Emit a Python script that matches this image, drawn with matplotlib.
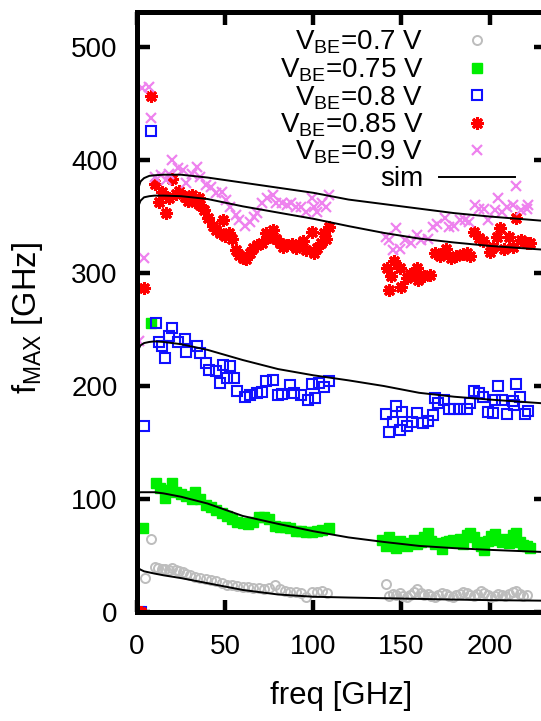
import matplotlib
matplotlib.use("Agg")
import matplotlib.pyplot as plt

plt.rcParams['font.family'] = ['Liberation Sans', 'DejaVu Sans']
plt.rcParams['font.size'] = 20

# measured fMAX [GHz] vs freq [GHz]
f07 = [4.5, 8, 10, 12, 14, 16, 18, 20, 22, 24, 26, 28, 30, 33, 36, 39, 42, 45, 48, 51, 54, 57, 60,
       63, 66, 69, 72, 75, 78, 81, 84, 87, 90, 93, 96, 99, 102, 105, 108,
       141, 143, 145, 147, 149, 151, 153, 155, 157, 159, 161, 163, 165, 167, 169, 171, 173, 175, 177,
       179, 181, 183, 185, 187, 189, 191, 193, 195, 197, 199, 201, 203, 205, 207, 209, 211, 213, 215,
       217, 219, 221]
v07 = [30, 65, 40, 39, 38, 38, 37, 39, 37, 36, 35, 34, 33, 31, 30, 29, 28, 27, 26, 24, 24, 23, 22,
       22, 21, 21, 20, 21, 24, 20, 19, 18, 18, 17, 13, 18, 18, 19, 17,
       25, 14, 16, 15, 17, 14, 13, 15, 18, 20, 17, 15, 16, 14, 13, 15, 17, 16, 14, 13, 15, 16, 18,
       17, 15, 14, 16, 19, 17, 15, 13, 14, 16, 15, 14, 16, 18, 19, 16, 14, 15]

f075 = [3.5, 8, 11, 13, 16, 18, 20, 22, 25, 28, 31, 33, 36, 39, 42, 45, 48, 51, 54, 57, 60, 63, 66,
        69, 72, 75, 78, 81, 84, 87, 90, 93, 96, 99, 102, 105, 109,
        139, 141, 143, 145, 147, 149, 151, 153, 155, 157, 159, 161, 163, 165, 167, 169, 171, 173, 175,
        177, 179, 181, 183, 185, 187, 189, 191, 193, 195, 197, 199, 201, 203, 205, 207, 209, 211, 213,
        215, 217, 219, 221, 223]
v075 = [74, 256, 114, 110, 101, 108, 114, 106, 104, 103, 100, 106, 100, 95, 93, 90, 88, 85, 82, 80,
        79, 78, 80, 84, 84, 82, 76, 75, 75, 74, 72, 72, 71, 71, 72, 73, 74,
        64, 58, 66, 62, 57, 63, 60, 58, 61, 64, 60, 62, 66, 70, 63, 60, 61, 56, 62, 63, 64, 62, 65,
        60, 68, 70, 66, 62, 58, 55, 63, 67, 69, 64, 62, 65, 61, 68, 70, 62, 59, 58, 57]

f08 = [1, 2, 4, 8, 11, 12.5, 14, 16, 18, 20, 23, 27, 28, 34, 36, 39, 41, 45, 47, 49, 51, 53, 55, 57,
       61, 64, 68, 71, 73, 77, 80, 82, 87, 89, 93, 97, 99, 101, 103, 106, 109,
       141, 143, 145, 147, 149, 150.6, 153, 156, 159, 162, 165, 168, 169, 171, 174, 177, 180, 183,
       187, 189, 191, 194, 196, 199, 202, 203, 205, 207, 210, 213, 214, 215, 217, 220, 222]
v08 = [0, 0, 165, 426, 256, 239, 235, 225, 244, 251, 239, 242, 230, 235, 229, 220, 214, 213, 203,
       219, 207, 218, 207, 196, 190, 192, 194, 195, 204, 205, 192, 193, 201, 194, 192, 188, 202, 189,
       203, 199, 204,
       175, 159, 168, 182, 161, 177, 165, 168, 176, 167, 169, 174, 189, 185, 188, 180, 180, 180,
       180, 185, 196, 194, 190, 177, 176, 188, 200, 188, 175, 187, 183, 202, 190, 175, 178]

f085 = [1, 2, 4, 8, 10, 12.5, 14, 16.5, 18, 20, 22, 24, 27, 29, 31, 33, 35, 36, 38, 40, 43, 45, 47,
        49, 50, 52, 54, 56, 58, 60, 62, 64, 66, 68, 71, 73, 75, 77, 79, 81, 83, 85, 88, 90, 92, 94,
        96, 99, 100.5, 102, 104.5, 106, 107, 109,
        142, 143, 144, 146, 149, 149.5, 153, 155, 159, 159.5, 163, 166, 169, 172, 175, 178, 181,
        185, 187, 189, 191, 194, 196, 200, 202, 204, 206, 208, 211, 213, 215, 218, 221, 223]
v085 = [0, 0, 287, 457, 379, 363, 372, 353, 366, 383, 370, 373, 367, 364, 369, 363, 366, 360, 356,
        349, 342, 338, 335, 347, 333, 335, 330, 320, 316, 313, 312, 318, 322, 325, 327, 335, 332,
        338, 330, 327, 323, 325, 326, 322, 326, 328, 320, 336, 318, 322, 327, 335, 330, 341,
        304, 285, 297, 311, 304, 288, 296, 299, 304, 294, 297, 298, 318, 315, 321, 313, 315,
        317, 318, 315, 336, 331, 328, 319, 323, 332, 340, 321, 332, 323, 349, 329, 327, 327]

f09 = [1, 3, 4, 7, 8, 10, 13.6, 16.5, 18, 20, 23, 26, 28, 31, 34, 36, 39, 42, 45, 48, 50.5, 53, 56,
       58, 61, 64, 66.5, 68, 71, 74, 77, 79, 82, 85, 87.5, 90, 93, 96, 99, 100.5, 102, 105, 107, 109,
       141, 143, 145, 147, 149, 152, 155.5, 159, 161, 165, 168, 170, 174.5, 177, 180, 183, 186,
       188.6, 191.5, 194, 196.6, 199, 203, 205, 207, 210, 213, 215, 218, 221, 222]
v09 = [240, 464, 313, 465, 437, 385, 387, 382, 388, 400, 393, 391, 380, 388, 394, 385, 378, 376,
       371, 372, 365, 358, 351, 347, 342, 345, 350, 353, 362, 366, 369, 362, 362, 360, 362, 358,
       358, 354, 366, 358, 354, 362, 358, 369,
       332, 329, 320, 340, 321, 329, 327, 334, 329, 330, 341, 343, 349, 341, 342, 347, 347,
       345, 360, 357, 357, 347, 356, 366, 354, 358, 360, 377, 356, 357, 360]

# simulation
sim_f = [0, 1, 2, 4, 7, 10, 15, 25, 40, 60, 80, 100, 120, 140, 160, 180, 200, 232]
sim07 = [40, 38.5, 37.5, 36, 35, 34, 32.5, 30, 25.5, 19.5, 15.5, 13.5, 12.8, 12.2, 11.6, 11, 10.5, 10]
sim075 = [105, 105.5, 106, 106, 106, 106, 105, 102, 96, 85, 78, 71.5, 66, 62, 58.5, 56.5, 55, 53]
sim08 = [229, 233, 236, 238, 239, 239.5, 239, 237, 232, 223, 215, 209.5, 205, 200, 194, 190.5, 188, 184.5]
sim085 = [350, 360, 364, 367, 368, 368.5, 368.5, 368, 365.5, 359, 353.5, 348, 341.5, 335.5, 330.5, 327, 324, 320.5]
sim09 = [365, 376, 381, 384, 386, 386.5, 387, 387, 384.5, 380, 375.5, 371, 365, 361, 357, 353, 350, 346]

fig = plt.figure(figsize=(5.41, 7.21), dpi=100)
ax = fig.add_axes([137/541, 109/721, 409/541, 600/721])

ax.plot(f07, v07, 'o', ls='none', ms=6.5, mfc='none', mec='#bdbdbd', mew=1.4, label=r'$\mathregular{V_{BE}}$=0.7 V')
ax.plot(f075, v075, 's', ls='none', ms=7, color='#00ee00', mec='#00ee00', label=r'$\mathregular{V_{BE}}$=0.75 V')
ax.plot(f08, v08, 's', ls='none', ms=7, mfc='none', mec='#1010ff', mew=1.5, label=r'$\mathregular{V_{BE}}$=0.8 V')
ax.plot(f085, v085, marker=(8, 2, 0), ls='none', ms=9, color='#ff0000', mec='#ff0000', mew=2.2, label=r'$\mathregular{V_{BE}}$=0.85 V')
ax.plot(f09, v09, 'x', ls='none', ms=7.5, color='#ee82ee', mew=1.6, label=r'$\mathregular{V_{BE}}$=0.9 V')

ax.plot(sim_f, sim07, color='black', lw=1.4, label='sim')
for s in [sim075, sim08, sim085, sim09]:
    ax.plot(sim_f, s, color='black', lw=1.4)

ax.set_xlim(0, 232)
ax.set_ylim(0, 531)
ax.set_xticks([0, 50, 100, 150, 200])
ax.set_yticks([0, 100, 200, 300, 400, 500])
ax.tick_params(direction='in', length=9, width=3.2, top=True, right=True)
ax.tick_params(axis='x', pad=16)
ax.tick_params(axis='y', pad=14)
for sp in ax.spines.values():
    sp.set_linewidth(3.6)

ax.set_xlabel('freq [GHz]', fontsize=22.5, labelpad=15)
ax.set_ylabel(r'$\mathregular{f_{MAX}}$ [GHz]', fontsize=23.5)
ax.yaxis.set_label_coords(-0.225, 0.49)

ax.legend(loc='upper right', bbox_to_anchor=(515/541, 1 - 29/721), bbox_transform=fig.transFigure,
          frameon=False, markerfirst=False, numpoints=1, handlelength=2.75, handletextpad=0.55,
          labelspacing=0.0, borderpad=0, borderaxespad=0, fontsize=20)

fig.savefig('out.png', dpi=100)
